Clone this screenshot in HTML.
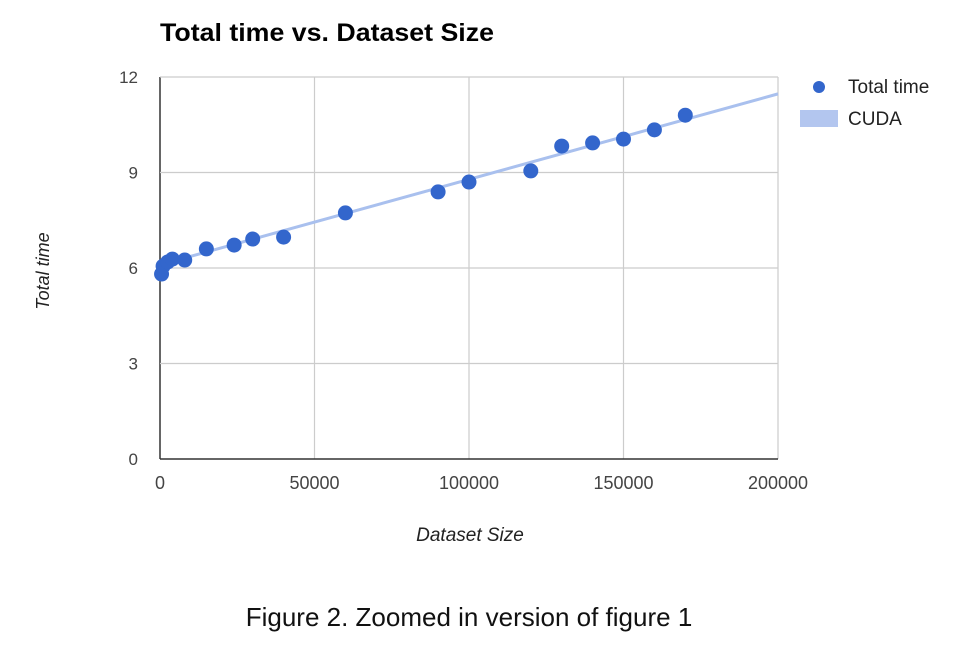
<!DOCTYPE html>
<html><head><meta charset="utf-8"><style>
body{margin:0;background:#fff;width:964px;height:644px;overflow:hidden;font-family:"Liberation Sans",Arial,sans-serif}
svg text{font-family:"Liberation Sans",Arial,sans-serif}
</style></head><body>
<svg width="964" height="644">
<g id="grid"></g><g id="marks"></g>
<text x="160" y="41" font-size="25" font-weight="bold" fill="#000" textLength="334" lengthAdjust="spacingAndGlyphs">Total time vs. Dataset Size</text>
<text x="470" y="541" font-size="19" font-style="italic" fill="#222" text-anchor="middle">Dataset Size</text>
<text transform="translate(49,271) rotate(-90)" font-size="18" font-style="italic" fill="#222" text-anchor="middle">Total time</text>
<g>
<circle cx="819" cy="87" r="6" fill="#3366cc"/>
<text x="848" y="93" font-size="19" fill="#222">Total time</text>
<rect x="800" y="110" width="38" height="17" fill="#b3c6ef"/>
<text x="848" y="125" font-size="19" fill="#222">CUDA</text>
</g>
<text x="469" y="626" font-size="26" fill="#111" text-anchor="middle">Figure 2. Zoomed in version of figure 1</text>
</svg>
<script>
const xTicks=[0,50000,100000,150000,200000];
const yTicks=[0,3,6,9,12];
const sizes=[500,1000,2500,4000,8000,15000,24000,30000,40000,60000,90000,100000,120000,130000,140000,150000,160000,170000];
const times=[5.81,6.06,6.19,6.28,6.25,6.6,6.72,6.91,6.97,7.73,8.39,8.7,9.05,9.83,9.93,10.05,10.34,10.8];
const trendX=[0,200000];
const trendY=[6.1,11.47];
const NS="http://www.w3.org/2000/svg";
const X0=160,X1=778,Y0=459,Y1=77;
const sx=v=>X0+(v-0)/200000*(X1-X0);
const sy=v=>Y0-v/12*(Y0-Y1);
function mk(t,a,p){const e=document.createElementNS(NS,t);for(const k in a)e.setAttribute(k,a[k]);p.appendChild(e);return e;}
const g=document.getElementById('grid'),m=document.getElementById('marks');
xTicks.forEach(v=>{
 const l=mk('line',{x1:sx(v),x2:sx(v),y1:Y1,y2:Y0,stroke:v===0?'#333':'#ccc','stroke-width':v===0?1.5:1.2},g);
 
 
 const t=mk('text',{x:sx(v),y:489,'font-size':18,fill:'#444','text-anchor':'middle'},g);t.textContent=v;
 
 
});
yTicks.forEach(v=>{
 const l=mk('line',{x1:X0,x2:X1,y1:sy(v),y2:sy(v),stroke:v===0?'#333':'#ccc','stroke-width':v===0?1.5:1.2},g);
 
 
 const t=mk('text',{x:138,y:sy(v)+6,'font-size':17,fill:'#444','text-anchor':'end'},g);t.textContent=v;
 
 
});
const tl=mk('line',{x1:sx(trendX[0]),y1:sy(trendY[0]),x2:sx(trendX[1]),y2:sy(trendY[1]),stroke:'#a9c0ee','stroke-width':3},m);


sizes.forEach((s,i)=>{
 const c=mk('circle',{cx:sx(s),cy:sy(times[i]),r:7.5,fill:'#3366cc'},m);
 
 
});
</script>
</body></html>
